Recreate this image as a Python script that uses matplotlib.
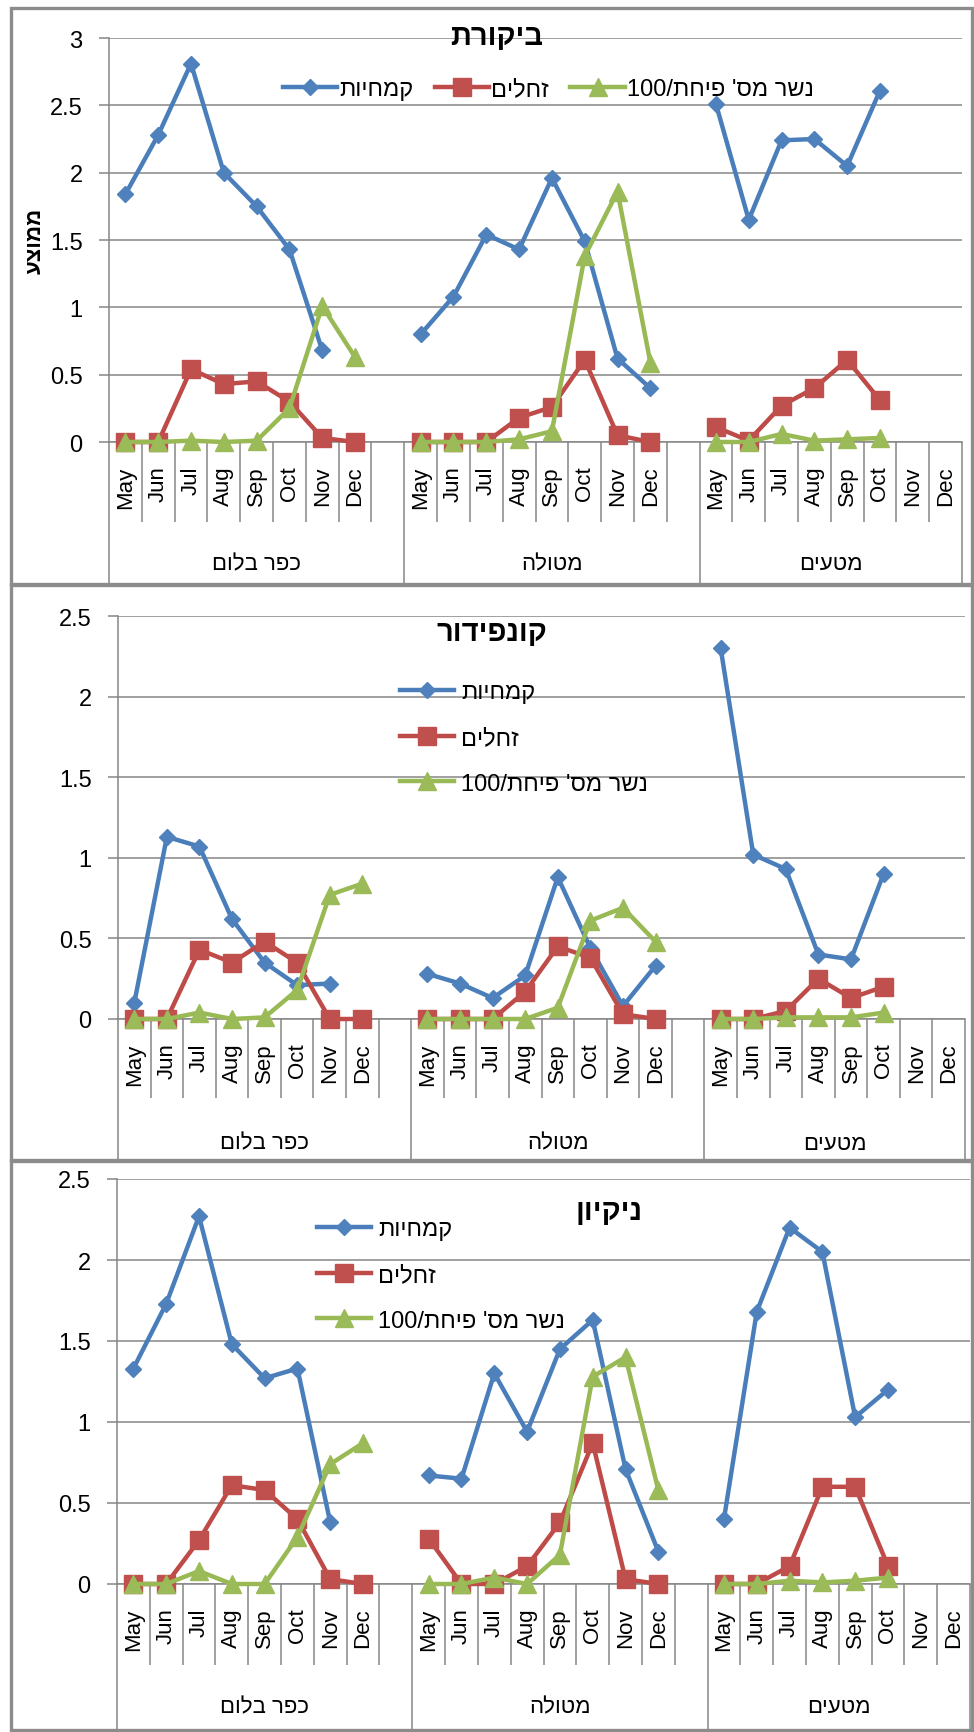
import re
import numpy as np
import matplotlib
matplotlib.use('Agg')
import matplotlib.pyplot as plt
from matplotlib.lines import Line2D
from matplotlib.patches import Rectangle
from matplotlib.ticker import FuncFormatter

plt.rcParams['font.family'] = ['Liberation Sans', 'DejaVu Sans']

N = None
months = ['May', 'Jun', 'Jul', 'Aug', 'Sep', 'Oct', 'Nov', 'Dec']
groups = ['כפר בלום', 'מטולה', 'מטעים']
series_names = ['קמחיות', 'זחלים', "נשר מס' פיחת/100"]
panel_titles = ['ביקורת', 'קונפידור', 'ניקיון']
y_label = 'ממוצע'
y_max = [3.0, 2.5, 2.5]

# panel 1: ביקורת  (per group: כפר בלום, מטולה, מטעים)
p1_kamhiyot = [[1.84, 2.28, 2.81, 2.00, 1.75, 1.43, 0.68, N],
               [0.80, 1.08, 1.54, 1.43, 1.96, 1.49, 0.62, 0.40],
               [2.51, 1.65, 2.24, 2.25, 2.05, 2.61, N, N]]
p1_zahalim = [[0, 0, 0.54, 0.43, 0.45, 0.30, 0.03, 0],
              [0, 0, 0, 0.18, 0.26, 0.61, 0.05, 0],
              [0.11, 0.01, 0.27, 0.40, 0.61, 0.31, N, N]]
p1_nesher = [[0, 0, 0.01, 0, 0.01, 0.25, 1.01, 0.63],
             [0, 0, 0, 0.02, 0.08, 1.38, 1.86, 0.59],
             [0, 0, 0.06, 0.01, 0.02, 0.03, N, N]]

# panel 2: קונפידור
p2_kamhiyot = [[0.10, 1.13, 1.07, 0.62, 0.35, 0.21, 0.22, N],
               [0.28, 0.22, 0.13, 0.27, 0.88, 0.44, 0.08, 0.33],
               [2.30, 1.02, 0.93, 0.40, 0.37, 0.90, N, N]]
p2_zahalim = [[0, 0, 0.43, 0.35, 0.48, 0.35, 0, 0],
              [0, 0, 0, 0.17, 0.45, 0.38, 0.03, 0],
              [0, 0, 0.05, 0.25, 0.13, 0.20, N, N]]
p2_nesher = [[0, 0, 0.04, 0, 0.01, 0.18, 0.77, 0.84],
             [0, 0, 0, 0, 0.07, 0.61, 0.69, 0.48],
             [0, 0, 0.01, 0.01, 0.01, 0.04, N, N]]

# panel 3: ניקיון
p3_kamhiyot = [[1.33, 1.73, 2.27, 1.48, 1.27, 1.33, 0.38, N],
               [0.67, 0.65, 1.30, 0.94, 1.45, 1.63, 0.71, 0.20],
               [0.40, 1.68, 2.20, 2.05, 1.03, 1.20, N, N]]
p3_zahalim = [[0, 0, 0.27, 0.61, 0.58, 0.40, 0.03, 0],
              [0.28, 0, 0, 0.11, 0.38, 0.87, 0.03, 0],
              [0, 0, 0.11, 0.60, 0.60, 0.11, N, N]]
p3_nesher = [[0, 0, 0.08, 0, 0, 0.29, 0.74, 0.87],
             [0, 0, 0.04, 0, 0.18, 1.28, 1.40, 0.58],
             [0, 0, 0.02, 0.01, 0.02, 0.04, N, N]]

panel_data = [(p1_kamhiyot, p1_zahalim, p1_nesher),
              (p2_kamhiyot, p2_zahalim, p2_nesher),
              (p3_kamhiyot, p3_zahalim, p3_nesher)]


def vis(s):
    """visual (LTR) order for Hebrew text"""
    r = s[::-1]
    return re.sub(r'\d+', lambda m: m.group(0)[::-1], r)


def build(series):
    out = []
    for g, vals in enumerate(series):
        out += [np.nan if v is None else v for v in vals]
        if g < 2:
            out.append(np.nan)
    return np.array(out, dtype=float)


W, H = 974, 1733
fig = plt.figure(figsize=(W / 100, H / 100), dpi=100)
fig.patch.set_facecolor('white')

# layout in pixels
layouts = [
    dict(x0=109, x1=962, yt=39, yz=443, msep=523, glab=565, bot=585, top=9,
         title=(497, 37), leg='row', leg_pos=(0.515, 0.874)),
    dict(x0=118, x1=965, yt=617, yz=1020, msep=1099, glab=1144, bot=1161, top=586,
         title=(492, 633), leg='col', leg_pos=(400, 739)),
    dict(x0=117, x1=970, yt=1180, yz=1585, msep=1666, glab=1708, bot=1731, top=1162,
         title=(609, 1212), leg='col', leg_pos=(317, 1276)),
]

colors_line = ['#4A7EBB', '#BE4B48', '#98B954']
colors_mark = ['#4F81BD', '#C0504D', '#9BBB59']
markers = ['D', 's', '^']
msizes = [8.5, 12.5, 13]
gray = '#868686'
border = '#8C8C8C'

offsets = [0, 9, 18]
xt = [o + i for o in offsets for i in range(8)]
xl = months * 3
x = np.arange(26)

for p, L in enumerate(layouts):
    ax = fig.add_axes([L['x0'] / W, 1 - L['yz'] / H, (L['x1'] - L['x0']) / W,
                       (L['yz'] - L['yt']) / H])
    ax.set_xlim(-0.5, 25.5)
    ax.set_ylim(0, y_max[p])
    ax.set_yticks(np.arange(0, y_max[p] + 0.01, 0.5))
    ax.yaxis.set_major_formatter(FuncFormatter(lambda v, pos: f'{v:g}'))
    ax.yaxis.grid(True, color=gray, lw=1.1)
    ax.set_axisbelow(True)
    for s in ['top', 'right']:
        ax.spines[s].set_visible(False)
    for s in ['left', 'bottom']:
        ax.spines[s].set_color(gray)
        ax.spines[s].set_linewidth(1.1)
    ax.tick_params(axis='y', direction='out', length=7, color=gray, width=1.1,
                   labelsize=17, pad=12)
    ax.set_xticks(xt)
    ax.set_xticklabels(xl, rotation=90, fontsize=16)
    ax.tick_params(axis='x', length=0, pad=17)

    hgt = L['yz'] - L['yt']
    msep_f = -(L['msep'] - L['yz']) / hgt
    bot_f = -(L['bot'] - L['yz']) / hgt
    tr = ax.get_xaxis_transform()
    month_seps = [o + i + 0.5 for o in offsets for i in range(8) if o + i + 0.5 < 25.5]
    month_seps = [m for m in month_seps if m not in (8.5, 17.5, 25.5)]
    ax.vlines(month_seps, msep_f, 0, transform=tr, colors=gray, lw=1.1, clip_on=False)
    ax.vlines([-0.5, 8.5, 17.5, 25.5], bot_f, 0, transform=tr, colors=gray, lw=1.1,
              clip_on=False)
    glab_f = -(L['glab'] - L['yz']) / hgt
    for g, cx in zip(groups, [4, 13, 21.5]):
        ax.text(cx, glab_f, vis(g), transform=tr, ha='center', va='center', fontsize=16)

    handles = []
    for k, ser in enumerate(panel_data[p]):
        y = build(ser)
        ln, = ax.plot(x, y, color=colors_line[k], lw=3.2, marker=markers[k],
                      ms=msizes[k], mfc=colors_mark[k], mec=colors_mark[k],
                      clip_on=False, zorder=3 + k)
        handles.append(ln)

    labels = [vis(s) for s in series_names]
    if L['leg'] == 'row':
        ax.legend(handles, labels, loc='center', bbox_to_anchor=L['leg_pos'],
                  ncol=3, frameon=False, fontsize=17, handlelength=2.3,
                  handletextpad=0.1, columnspacing=0.9, borderpad=0, borderaxespad=0)
    else:
        lx = (L['leg_pos'][0] - L['x0']) / (L['x1'] - L['x0'])
        ly = (L['yz'] - L['leg_pos'][1]) / hgt
        ax.legend(handles, labels, loc='center left', bbox_to_anchor=(lx, ly),
                  ncol=1, frameon=False, fontsize=17, handlelength=2.3,
                  handletextpad=0.3, labelspacing=1.0, borderpad=0, borderaxespad=0)

    fig.text(L['title'][0] / W, 1 - L['title'][1] / H, vis(panel_titles[p]),
             ha='center', va='center', fontsize=21, fontweight='bold')

    # panel border
    fig.add_artist(Rectangle((11 / W, 1 - L['bot'] / H), (972 - 11) / W,
                             (L['bot'] - L['top']) / H, transform=fig.transFigure,
                             fill=False, edgecolor=border, lw=2.4))

fig.text(35 / W, 1 - 241 / H, vis(y_label), rotation=90, ha='center', va='center',
         fontsize=16, fontweight='bold')

fig.savefig('out.png', dpi=100, facecolor='white')
